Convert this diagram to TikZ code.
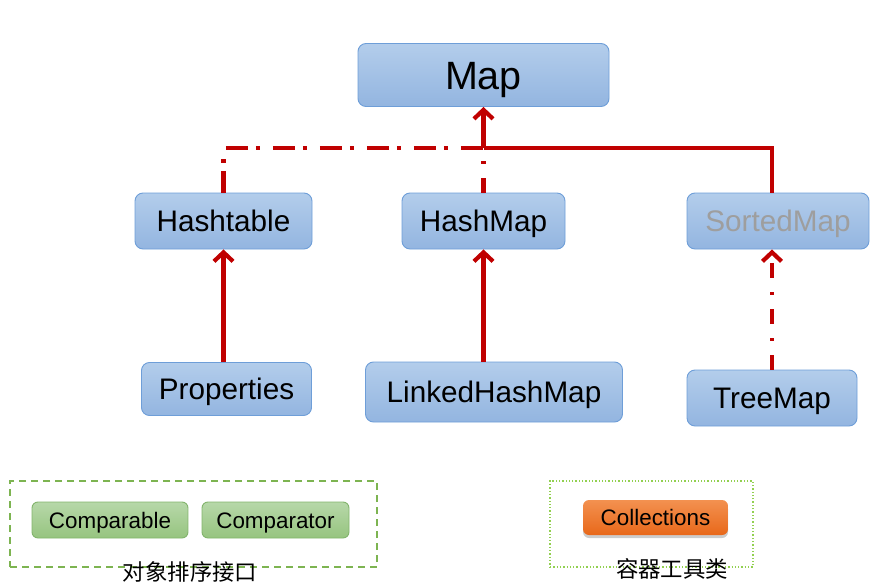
\documentclass[tikz,border=0pt]{standalone}
\usepackage{fontspec}
\setmainfont{Liberation Sans}
\newfontfamily\cjk{Noto Sans CJK SC}
\usetikzlibrary{arrows.meta,shadows,calc}
\definecolor{linered}{HTML}{C00000}
\definecolor{bluetop}{HTML}{B3CDEB}
\definecolor{bluebot}{HTML}{93B5E0}
\definecolor{blueedge}{HTML}{6E9ED8}
\definecolor{greentop}{HTML}{B7D8A9}
\definecolor{greenbot}{HTML}{96C47F}
\definecolor{greenedge}{HTML}{82B46C}
\definecolor{orangetop}{HTML}{F39150}
\definecolor{orangebot}{HTML}{E8681A}
\definecolor{dashgreen}{HTML}{7DB451}
\definecolor{dotgreen}{HTML}{92D050}
\tikzset{
  bluebox/.style={draw=blueedge, line width=0.9pt, rounded corners=8pt,
    top color=bluetop, bottom color=bluebot, inner sep=0pt, text depth=0pt},
  bigtext/.style={font=\fontsize{29.7}{32}\selectfont, text height=21.3pt},
  greenbox/.style={draw=greenedge, line width=0.9pt, rounded corners=6pt,
    top color=greentop, bottom color=greenbot, inner sep=0pt,
    text height=16pt, text depth=0pt,
    minimum height=36pt, font=\fontsize{22.4}{24}\selectfont},
  orangebox/.style={draw=none, rounded corners=6pt,
    top color=orangetop, bottom color=orangebot, inner sep=0pt,
    text height=16pt, text depth=0pt,
    drop shadow={shadow xshift=0pt, shadow yshift=-3pt, opacity=0.4},
    minimum height=35pt, font=\fontsize{22.4}{24}\selectfont},
  conn/.style={draw=linered, line width=4.2pt},
  dashdotH/.style={conn, dash pattern=on 22pt off 8pt on 4pt off 13pt},
  dashdotV/.style={conn, dash pattern=on 15pt off 14pt on 3pt off 14pt},
  arr/.style={-{Straight Barb[length=9pt,width=19pt]}},
  cnlabel/.style={font=\cjk\fontsize{22.4}{24}\selectfont, inner sep=0pt},
}
\begin{document}
\begin{tikzpicture}[x=1pt,y=-1pt]
\useasboundingbox (0,0) rectangle (881,583);
% blue nodes
\node[bluebox, minimum width=251pt, minimum height=63pt, font=\fontsize{39.5}{42}\selectfont, text height=28.3pt] (Map) at (483.5,75) {Map};
\node[bluebox, bigtext, minimum width=177pt, minimum height=56pt] (Hashtable) at (223.5,221) {Hashtable};
\node[bluebox, bigtext, minimum width=163pt, minimum height=56pt] (HashMap) at (483.5,221) {HashMap};
\node[bluebox, bigtext, minimum width=182pt, minimum height=56pt, text=black!38] (SortedMap) at (778,221) {SortedMap};
\node[bluebox, bigtext, minimum width=170pt, minimum height=53pt] (Properties) at (226.5,389) {Properties};
\node[bluebox, bigtext, minimum width=257pt, minimum height=60pt] (LinkedHashMap) at (494,392) {LinkedHashMap};
\node[bluebox, bigtext, minimum width=170pt, minimum height=56pt] (TreeMap) at (772,398) {TreeMap};
% connectors
\coordinate (j) at (483.5,148);
\draw[dashdotH] (Hashtable.north) |- (j);
\draw[dashdotV] (HashMap.north) -- (j);
\draw[conn] (TreeMap.north |- SortedMap.north) |- (j);
\draw[conn, arr] (j) -- (Map.south);
\draw[conn, arr] (Hashtable.south |- Properties.north) -- (Hashtable.south);
\draw[conn, arr] (HashMap.south |- LinkedHashMap.north) -- (HashMap.south);
\draw[dashdotV, arr] (TreeMap.north) -- (TreeMap.north |- SortedMap.south);
% bottom left group
\node[draw=dashgreen, line width=1.5pt, dash pattern=on 7pt off 5pt, minimum width=367pt, minimum height=86pt, inner sep=0pt] (sortgroup) at (193.5,524) {};
\node[greenbox, minimum width=156pt] (Comparable) at (110,520) {Comparable};
\node[greenbox, minimum width=147pt] (Comparator) at (275.5,520) {Comparator};
\node[cnlabel] (sortlabel) at (190,572) {对象排序接口};
% bottom right group
\node[draw=dotgreen, line width=1.3pt, dotted, minimum width=203pt, minimum height=86pt, inner sep=0pt] (toolgroup) at (651.5,524) {};
\node[orangebox, minimum width=145pt] (Collections) at (655.5,517.5) {Collections};
\node[cnlabel] (toollabel) at (672,569) {容器工具类};
\end{tikzpicture}
\end{document}
